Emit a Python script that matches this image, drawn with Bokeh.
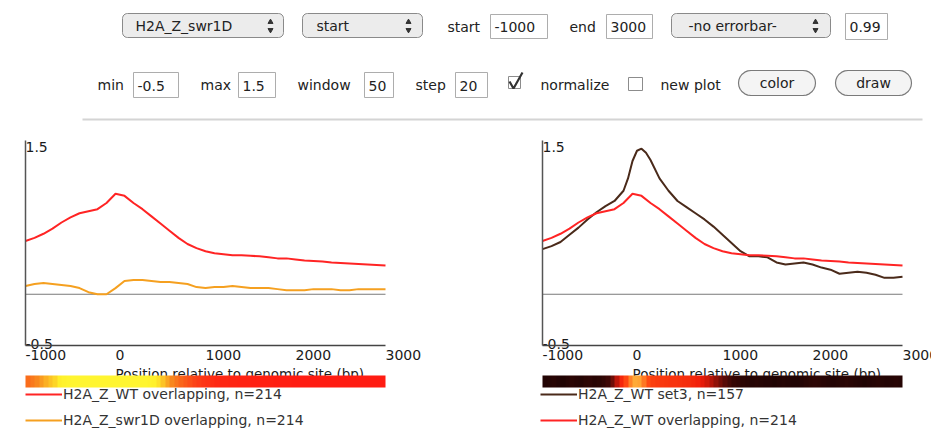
import numpy as np
from bokeh.plotting import figure
from bokeh.layouts import column, row
from bokeh.models import (Range1d, LinearAxis, FixedTicker, Legend, LegendItem,
                          LinearColorMapper)
from bokeh.core.properties import value
from bokeh.embed import file_html
from bokeh.resources import INLINE

FONT = "DejaVu Sans"

# ---------------- data ----------------
pos_wt = [-1000, -900, -800, -700, -600, -500, -400, -300, -200, -100, 0, 100, 200, 300,
          400, 500, 600, 700, 800, 900, 1000, 1100, 1200, 1300, 1400, 1500, 1600, 1700,
          1800, 1900, 2000, 2100, 2200, 2300, 2400, 2500, 2600, 2700, 2800, 2900, 3000]
wt_overlapping = [0.52, 0.55, 0.59, 0.64, 0.70, 0.75, 0.79, 0.81, 0.83, 0.89, 0.98, 0.96,
                  0.89, 0.83, 0.76, 0.69, 0.62, 0.55, 0.49, 0.45, 0.42, 0.40, 0.39, 0.38,
                  0.38, 0.375, 0.37, 0.36, 0.35, 0.35, 0.34, 0.33, 0.325, 0.32, 0.31, 0.305,
                  0.30, 0.295, 0.29, 0.285, 0.28]

pos_swr = pos_wt
swr1d_overlapping = [0.08, 0.10, 0.11, 0.10, 0.09, 0.08, 0.06, 0.02, 0.00, 0.00,
                     0.06, 0.13, 0.14, 0.14, 0.13, 0.12, 0.12, 0.11, 0.10, 0.07,
                     0.06, 0.07, 0.07, 0.08, 0.07, 0.06, 0.06, 0.06, 0.05, 0.04,
                     0.04, 0.04, 0.05, 0.05, 0.05, 0.04, 0.04, 0.05, 0.05, 0.05, 0.05]

pos_set3 = [-1000, -900, -800, -700, -600, -500, -400, -300, -200, -100, -50, 0, 50, 100,
            150, 200, 300, 400, 500, 600, 700, 800, 900, 1000, 1100, 1200, 1300, 1400,
            1500, 1600, 1700, 1800, 1900, 2000, 2100, 2200, 2300, 2400, 2500, 2600, 2700,
            2800, 2900, 3000]
wt_set3 = [0.44, 0.47, 0.51, 0.58, 0.65, 0.73, 0.80, 0.86, 0.91, 1.01, 1.13, 1.30, 1.40,
           1.42, 1.38, 1.31, 1.13, 1.01, 0.91, 0.85, 0.79, 0.73, 0.66, 0.58, 0.50, 0.42,
           0.37, 0.37, 0.36, 0.31, 0.29, 0.30, 0.31, 0.29, 0.26, 0.24, 0.20, 0.21, 0.22,
           0.21, 0.19, 0.16, 0.16, 0.17]

# heat strips (80 bins of 50 bp, -1000..3000 bp)
heat_left = [0.38, 0.44, 0.50, 0.57, 0.64, 0.70, 0.76, 0.84, 0.92, 0.97,
             1.0, 1.0, 1.0, 1.0, 1.0, 1.0, 1.0, 1.0, 1.0, 1.0, 1.0, 1.0, 1.0, 1.0, 1.0, 1.0,
             1.0,
             0.95, 0.88, 0.80, 0.70, 0.60, 0.50, 0.42, 0.35, 0.29, 0.24, 0.19, 0.15, 0.12,
             0.10, 0.08, 0.06,
             0.05, 0.05, 0.04, 0.04, 0.03, 0.03, 0.03, 0.02, 0.02, 0.02, 0.02, 0.02, 0.01,
             0.01, 0.01, 0.01, 0.0, 0.0, 0.0, 0.0, 0.0, 0.0, 0.0, 0.0, 0.0, 0.0, 0.0, 0.0,
             0.0, 0.0, 0.0, 0.0, 0.0, 0.0, 0.0, 0.0, 0.0]
heat_right = [0.06, 0.07, 0.08, 0.06, 0.05, 0.07, 0.09, 0.08, 0.07, 0.09, 0.10, 0.08,
              0.09, 0.12, 0.16,
              0.25, 0.40, 0.55, 0.68, 0.80, 0.88, 0.86, 0.78, 0.70, 0.65, 0.63, 0.62, 0.61,
              0.60, 0.60, 0.59, 0.58, 0.57, 0.55, 0.52, 0.48, 0.44, 0.38, 0.32, 0.26, 0.21,
              0.17, 0.13, 0.11,
              0.09, 0.08, 0.07, 0.08, 0.07, 0.06, 0.06, 0.05, 0.06, 0.07, 0.06, 0.05, 0.05,
              0.06, 0.08, 0.09, 0.10, 0.09, 0.08, 0.07, 0.06, 0.07, 0.08, 0.09, 0.08, 0.07,
              0.06, 0.05, 0.06, 0.07, 0.08, 0.07, 0.06, 0.07, 0.08, 0.07]

x_ticks = [-1000, 0, 1000, 2000, 3000]
x_tick_labels = ["-1000", "0", "1000", "2000", "3000"]
x_min, x_max = -1000, 3000
y_min, y_max = -0.5, 1.5
y_tick_labels = ["1.5", "-0.5"]
x_axis_label = "Position relative to genomic site (bp)"

legend_left = ["H2A_Z_WT overlapping, n=214", "H2A_Z_swr1D overlapping, n=214"]
legend_right = ["H2A_Z_WT set3, n=157", "H2A_Z_WT overlapping, n=214"]

# controls
dropdown_texts = ["H2A_Z_swr1D", "start", "-no errorbar-"]
row1_labels = ["start", "end"]
row1_values = ["-1000", "3000", "0.99"]
row2_labels = ["min", "max", "window", "step", "normalize", "new plot"]
row2_values = ["-0.5", "1.5", "50", "20"]
button_texts = ["color", "draw"]

# ---------------- colours / geometry ----------------
RED = "#ff2424"
ORANGE = "#f5a020"
BROWN = "#4a2a1a"

PAGE_W = 931
CTRL_H = 125
SIDE_H = 307
TOP_PAGE = CTRL_H
BOTTOM_PAGE = TOP_PAGE + SIDE_H
PX_PER_BP = 0.09
PX_PER_UNIT = 102.5
ZERO_PAGE_Y = 293.75


def y_at(page_y):
    return (ZERO_PAGE_Y - page_y) / PX_PER_UNIT


def ramp(stops, n=256):
    pos = np.array([s[0] for s in stops])
    rgb = np.array([[int(s[1][i:i + 2], 16) for i in (1, 3, 5)] for s in stops], float)
    out = []
    for v in np.linspace(0, 1, n):
        col = [np.interp(v, pos, rgb[:, k]) for k in range(3)]
        out.append("#%02x%02x%02x" % tuple(int(round(x)) for x in col))
    return out


pal_left = ramp([(0.0, "#ff1c12"), (0.5, "#f8861e"), (0.85, "#fff02a"), (1.0, "#fff530")])
pal_right = ramp([(0.0, "#140202"), (0.15, "#3a0806"), (0.5, "#f01c0a"),
                  (0.7, "#ff4a12"), (0.85, "#ffa030"), (1.0, "#ffd050")])


def make_side(page_x0, page_x1, axis_page_x, series, heat, palette, labels, legend_x):
    w = page_x1 - page_x0
    xr = Range1d(x_min - (axis_page_x - page_x0) / PX_PER_BP,
                 x_min + (page_x1 - axis_page_x) / PX_PER_BP)
    yr = Range1d(y_at(BOTTOM_PAGE), y_at(TOP_PAGE))
    p = figure(width=w, height=SIDE_H, x_range=xr, y_range=yr, output_backend="svg",
               toolbar_location=None, tools="", x_axis_location=None, y_axis_location=None,
               min_border=0)
    p.outline_line_color = None
    p.grid.visible = False

    # zero line
    p.line([x_min, x_max], [0, 0], color="#7a7a7a", line_width=1)

    rends = []
    for xs, ys, col in series:
        rends.append(p.line(xs, ys, color=col, line_width=2))

    xa = LinearAxis(fixed_location=y_min, bounds=(x_min, x_max),
                    ticker=FixedTicker(ticks=[]),
                    axis_line_color="#444444", axis_line_width=1.5,
                    major_tick_line_color=None, minor_tick_line_color=None,
                    major_tick_in=0, major_tick_out=0)
    p.add_layout(xa, "below")
    ya = LinearAxis(fixed_location=x_min, bounds=(y_min, y_max),
                    ticker=FixedTicker(ticks=[]),
                    axis_line_color="#555555", axis_line_width=1.5,
                    major_tick_line_color=None, minor_tick_line_color=None,
                    major_tick_in=0, major_tick_out=0)
    p.add_layout(ya, "left")

    # tick labels, left-aligned at their ticks (as in the original)
    p.text(x=x_ticks, y=[y_min] * len(x_ticks), text=x_tick_labels, text_baseline="top",
           text_align="left", y_offset=4, text_font=value(FONT),
           text_font_size="14px", text_color="#1a1a1a")
    p.text(x=[x_min], y=[y_max], text=[y_tick_labels[0]], text_baseline="top",
           text_align="left", y_offset=1, text_font=value(FONT),
           text_font_size="14px", text_color="#1a1a1a")
    p.text(x=[x_min], y=[y_min], text=[y_tick_labels[1]], text_baseline="alphabetic",
           text_align="left", y_offset=-2, text_font=value(FONT),
           text_font_size="14px", text_color="#1a1a1a")
    p.text(x=[0], y=[y_min], text=[x_axis_label], text_baseline="alphabetic",
           text_align="left", y_offset=28, text_font=value(FONT),
           text_font_size="13.5px", text_color="#1a1a1a")

    mapper = LinearColorMapper(palette=palette, low=0, high=1)
    p.image(image=[np.array([heat], dtype=float)], x=x_min, y=y_at(387),
            dw=x_max - x_min, dh=12 / PX_PER_UNIT, color_mapper=mapper)

    legend = Legend(items=[LegendItem(label=l, renderers=[r]) for l, r in zip(labels, rends)],
                    location=(legend_x, 4), orientation="vertical",
                    glyph_width=37, glyph_height=14, label_height=14, label_standoff=1,
                    spacing=10, padding=0, margin=0, border_line_alpha=0,
                    background_fill_alpha=0, label_text_font=FONT,
                    label_text_font_size="14px", label_text_color="#333333")
    p.add_layout(legend)
    return p


left = make_side(0, 466, 25, [(pos_wt, wt_overlapping, RED), (pos_swr, swr1d_overlapping, ORANGE)],
                 heat_left, pal_left, legend_left, 25)
right = make_side(466, 931, 542, [(pos_set3, wt_set3, BROWN), (pos_wt, wt_overlapping, RED)],
                  heat_right, pal_right, legend_right, 74)

# ---------------- control panel ----------------
c = figure(width=PAGE_W, height=CTRL_H, x_range=Range1d(0, PAGE_W),
           y_range=Range1d(CTRL_H, 0), output_backend="svg", toolbar_location=None,
           tools="", x_axis_location=None, y_axis_location=None, min_border=0)
c.outline_line_color = None
c.grid.visible = False


def rrect(x0, y0, x1, y1, r, n=7):
    xs, ys = [], []
    for cx, cy, a0 in [(x0 + r, y0 + r, 180), (x1 - r, y0 + r, 270),
                       (x1 - r, y1 - r, 0), (x0 + r, y1 - r, 90)]:
        for a in np.linspace(a0, a0 + 90, n):
            xs.append(cx + r * np.cos(np.radians(a)))
            ys.append(cy + r * np.sin(np.radians(a)))
    return xs, ys


def txt(xs, ys, texts, align="left", size="14px", color="#222222"):
    c.text(x=xs, y=ys, text=texts, text_baseline="middle", text_align=align,
           text_font=value(FONT), text_font_size=size, text_color=color)


# dropdowns
dd_boxes = [(122, 13, 283, 37), (302, 13, 422, 37), (671, 13, 830, 37)]
dd_text_x = [135, 316, 688]
dd_arrow_x = [270, 408, 815]
pxs, pys = [], []
for b in dd_boxes:
    xs, ys = rrect(*b, r=5)
    pxs.append(xs); pys.append(ys)
c.patches(pxs, pys, fill_color="#ececec", line_color="#8a8a8a", line_width=1)
txt(dd_text_x, [25.5] * 3, dropdown_texts)
c.scatter(dd_arrow_x, [21.5] * 3, marker="triangle", size=5, color="#333333")
c.scatter(dd_arrow_x, [29.5] * 3, marker="inverted_triangle", size=5, color="#333333")

# text boxes
tb = [(490, 14, 547, 38), (606, 14, 652, 38), (845, 13, 887, 39),
      (133, 72, 178, 97), (238, 72, 275, 97), (364, 72, 393, 97), (455, 72, 487, 97)]
c.quad(left=[b[0] for b in tb], right=[b[2] for b in tb], top=[b[1] for b in tb],
       bottom=[b[3] for b in tb], fill_color="white", line_color="#adadad", line_width=1)
txt([b[0] + 4 for b in tb], [(b[1] + b[3]) / 2 + 0.5 for b in tb], row1_values + row2_values)

# labels
txt([447, 569], [26, 26], row1_labels)
txt([97, 200, 297, 415, 540, 660], [84.5] * 6, row2_labels)

# checkboxes
c.quad(left=[508, 628], right=[520, 642], top=[76, 77], bottom=[88, 90],
       fill_color="white", line_color="#8c8c8c", line_width=1)
c.line([509, 513, 522], [81, 88, 72], color="#333333", line_width=2.2)

# buttons
bxs, bys = [], []
for b in [(738, 70, 815, 95), (835, 70, 911, 95)]:
    xs, ys = rrect(*b, r=12.5)
    bxs.append(xs); bys.append(ys)
c.patches(bxs, bys, fill_color="#f4f4f4", line_color="#7a7a7a", line_width=1.2)
txt([776.5, 873], [82.5, 82.5], button_texts, align="center")

# separator
c.line([82, 922], [119, 119], color="#d4d4d4", line_width=2)

layout = column(c, row(left, right, spacing=0), spacing=0)
open("out.html", "w").write(file_html(layout, INLINE))
